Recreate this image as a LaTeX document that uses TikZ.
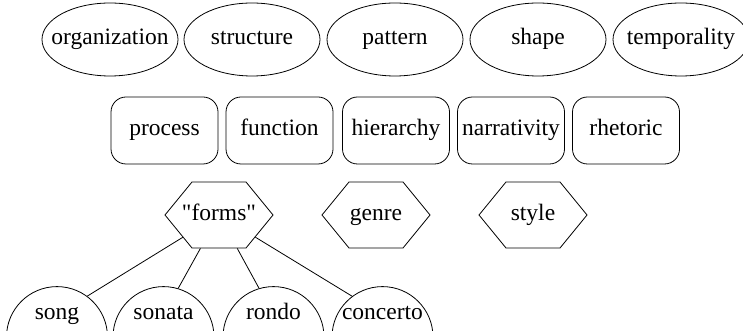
\documentclass[tikz,border=0pt]{standalone}
\usepackage{fontspec}
\setmainfont{Liberation Serif}[Ligatures=TeXOff]
\usetikzlibrary{shapes.geometric,shapes.symbols}

\tikzset{
	term/.style={draw,line width=0.8pt,font=\fontsize{23.5}{28}\selectfont,
		text height=16pt,text depth=5pt,inner sep=0pt},
	concept/.style={term,ellipse,inner xsep=-11pt,minimum width=136pt,minimum height=73pt},
	aspect/.style={term,rounded corners=15pt,minimum width=107pt,minimum height=67pt},
	kind/.style={term,signal,signal to=west and east,signal pointer angle=101.4,
		inner xsep=27pt,inner ysep=22.5pt},
	piece/.style={term,semicircle,text depth=6pt,minimum width=101pt,anchor=chord center},
}
\newcommand{\tight}[1]{\makebox[0pt]{#1}}

\begin{document}
\begin{tikzpicture}[x=1pt,y=1pt]
	\useasboundingbox (0,0) rectangle (743,331);
	% top row
	\foreach \w/\x in {organization/110,structure/252,pattern/395,shape/538,temporality/681}
		\node[concept] (\w) at (\x,291.5) {\w};
	% middle row
	\foreach \w/\x in {process/164.5,function/279.5,hierarchy/396,narrativity/511,rhetoric/626}
		\node[aspect] (\w) at (\x,200.5) {\w};
	\node[kind] (forms) at (219,116) {\tight{"forms"}};
	\node[kind] (genre) at (376,116) {\tight{genre}};
	\node[kind] (style) at (533,116) {\tight{style}};
	% pieces hanging off forms
	\foreach \w/\x in {song/57,sonata/163.5,rondo/273.5,concerto/382.5} {
		\node[piece] (\w) at (\x,-6.5) {\tight{\w}};
		\draw[line width=0.8pt] (forms) -- (\w);
	}
\end{tikzpicture}
\end{document}
